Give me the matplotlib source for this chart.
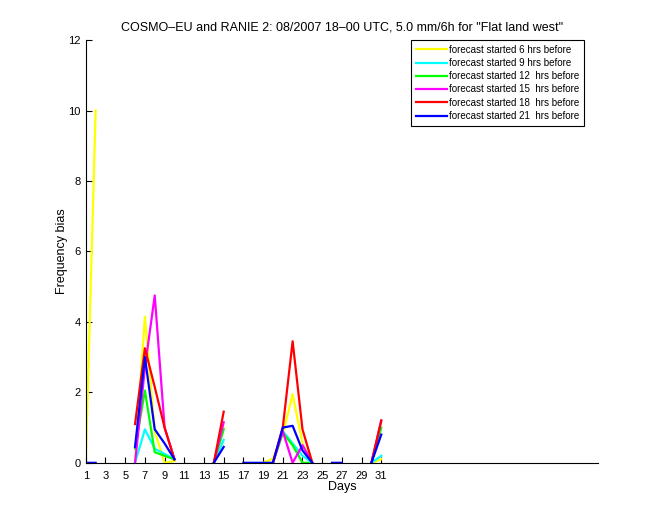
import numpy as np
import matplotlib
matplotlib.use('Agg')
import matplotlib.pyplot as plt

plt.rcParams['font.family'] = ['Liberation Sans', 'DejaVu Sans']

nan = np.nan
days = np.arange(1, 32)

# frequency bias per day, NaN where no value
bias_6h = [0, 10.0, nan, nan, nan, 0, 4.15, 0.9, 0, 0.05, nan, nan, nan, 0, 1.0,
           nan, nan, nan, 0, 0.12, 0.8, 1.95, 0.55, 0, nan, nan, nan, nan, nan, 0, 0.1]
bias_9h = [nan, nan, nan, nan, nan, 0, 0.95, 0.4, 0.25, 0.1, nan, nan, nan, 0, 0.65,
           nan, nan, nan, nan, 0, 0.9, 0.55, 0.2, 0, nan, nan, nan, nan, nan, 0, 0.2]
bias_12h = [nan, nan, nan, nan, nan, 0.4, 2.05, 0.3, 0.2, 0.1, nan, nan, nan, 0, 0.95,
            nan, nan, nan, nan, 0, 0.85, 0.5, 0, 0, nan, nan, nan, nan, nan, 0, 1.0]
bias_15h = [nan, nan, nan, nan, nan, 0, 2.7, 4.75, 1.0, 0.1, nan, nan, nan, 0, 1.15,
            nan, nan, nan, nan, 0, 0.9, 0, 0.5, 0, nan, nan, nan, nan, nan, 0, 1.2]
bias_18h = [nan, nan, nan, nan, nan, 1.1, 3.25, 2.15, 1.0, 0.1, nan, nan, nan, 0, 1.45,
            nan, nan, nan, nan, 0, 1.0, 3.45, 0.95, 0, nan, nan, nan, nan, nan, 0, 1.2]
bias_21h = [0, 0, nan, nan, nan, 0.45, 3.0, 0.95, 0.55, 0.1, nan, 0, nan, 0, 0.45,
            nan, 0, 0, 0, 0, 1.0, 1.05, 0.35, 0, nan, 0, 0, nan, nan, 0, 0.8]

series = [bias_6h, bias_9h, bias_12h, bias_15h, bias_18h, bias_21h]
labels = ['forecast started 6 hrs before', 'forecast started 9 hrs before',
          'forecast started 12  hrs before', 'forecast started 15  hrs before',
          'forecast started 18  hrs before', 'forecast started 21  hrs before']
colors = ['#ffff00', '#00ffff', '#00ff00', '#ff00ff', '#ff0000', '#0000ff']

fig = plt.figure(figsize=(6.6, 5.2), dpi=100)
ax = fig.add_axes([0.13, 0.11, 0.776, 0.813])

for vals, lab, col in zip(series, labels, colors):
    ax.plot(days, vals, color=col, linewidth=1.6, label=lab)

ax.set_xlim(1, 53)
ax.set_ylim(0, 12)
ax.set_xticks(np.arange(1, 32, 2))
ax.set_yticks(np.arange(0, 13, 2))
ax.tick_params(direction='in', length=4, labelsize=8)
ax.tick_params(axis='x', pad=6)
ax.spines['top'].set_visible(False)
ax.spines['right'].set_visible(False)

ax.set_xlabel('Days', fontsize=9, labelpad=0)
ax.set_ylabel('Frequency bias', fontsize=9, labelpad=0)
ax.set_title('COSMO\u2013EU and RANIE 2: 08/2007 18\u201300 UTC, 5.0 mm/6h for "Flat land west"',
             fontsize=9, pad=7)

leg = ax.legend(loc='upper right', fontsize=7, fancybox=False, framealpha=1,
                edgecolor='black', handlelength=3.2, borderaxespad=0,
                bbox_to_anchor=(584 / 660, 1 - 40 / 520), bbox_transform=fig.transFigure,
                labelspacing=0.33, handletextpad=0.2, borderpad=0.5)
leg.get_frame().set_linewidth(0.8)

plt.savefig('out.png', dpi=100)
